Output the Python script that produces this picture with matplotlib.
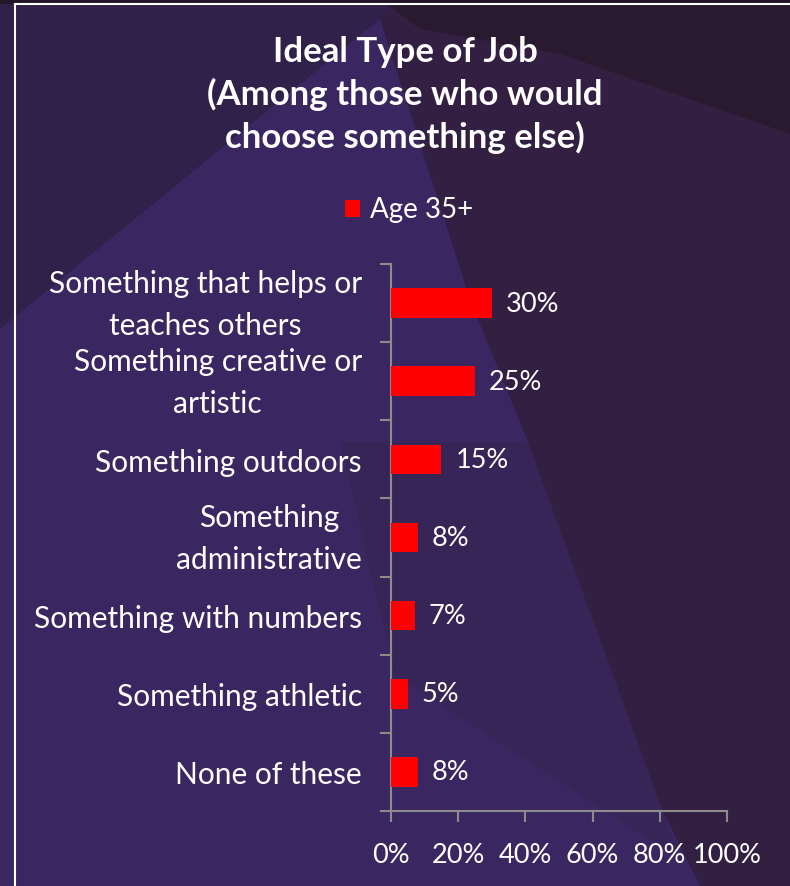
import matplotlib
matplotlib.use("Agg")
import matplotlib.pyplot as plt
from matplotlib.patches import Polygon, Rectangle
from matplotlib.transforms import ScaledTranslation

# Survey data
categories = [
    "Something that helps or\nteaches others",
    "Something creative or\nartistic",
    "Something outdoors",
    "Something\nadministrative",
    "Something with numbers",
    "Something athletic",
    "None of these",
]
values = [30, 25, 15, 8, 7, 5, 8]
series_name = "Age 35+"
x_ticks = [0, 20, 40, 60, 80, 100]
x_tick_labels = ["0%", "20%", "40%", "60%", "80%", "100%"]
title = "Ideal Type of Job\n(Among those who would\nchoose something else)"

FONT = ["Lato", "DejaVu Sans"]
W, H = 790, 887
fig = plt.figure(figsize=(W / 100, H / 100), dpi=100)
fig.patch.set_facecolor("#35234f")


def px(points):
    """Convert pixel coords (origin top-left) to figure fraction."""
    return [(x / W, 1 - y / H) for x, y in points]


# Faceted purple backdrop
shapes = [
    ([(0, 0), (400, 0), (380, 20), (0, 330)], "#2f2149"),
    ([(380, 20), (0, 330), (0, 887), (700, 887), (662, 810), (528, 443), (470, 300)], "#3a2762"),
    ([(340, 443), (528, 443), (680, 860), (395, 676)], "#372558"),
    ([(400, 0), (790, 0), (790, 887), (700, 887), (662, 810), (528, 443), (470, 300), (380, 20)], "#331f42"),
    ([(380, 0), (790, 0), (790, 135), (560, 55), (420, 30)], "#2a1a30"),
    ([(0, 0), (790, 0), (790, 5), (0, 5)], "#231629"),
]
for pts, col in shapes:
    fig.patches.append(Polygon(px(pts), closed=True, transform=fig.transFigure,
                               facecolor=col, edgecolor="none", zorder=-10))

# White frame
fig.add_artist(plt.Line2D([15 / W, 15 / W], [0, 1 - 5 / H], transform=fig.transFigure,
                          color="white", lw=1.5))
fig.add_artist(plt.Line2D([15 / W, 1], [1 - 5 / H, 1 - 5 / H], transform=fig.transFigure,
                          color="white", lw=1.5))

ax = fig.add_axes([391 / W, 1 - 812 / H, (727 - 391) / W, (812 - 265) / H])
ax.set_facecolor("none")

n = len(categories)
ypos = list(range(n))
ax.barh(ypos, values, height=0.38, color="#ff0000", zorder=3)
for y, v in zip(ypos, values):
    ax.text(v + 4.2, y, f"{v}%", va="center", ha="left", color="white",
            fontsize=19.5, family=FONT)

ax.set_xlim(0, 100)
ax.set_ylim(n - 0.5, -0.5)

ax.set_yticks(ypos)
ax.set_yticklabels(categories, fontsize=21.5, family=FONT, color="white",
                   multialignment="center", linespacing=1.6)
ax.tick_params(axis="y", which="major", length=0, pad=21)
ax.set_yticks([i - 0.5 for i in range(n + 1)], minor=True)
ax.tick_params(axis="y", which="minor", length=8, width=1.5, color="#8c8c8c", direction="out")

# Two-line labels sit a little high so both lines straddle the bar evenly
lift = ScaledTranslation(0, 0.085, fig.dpi_scale_trans)
for lbl in ax.get_yticklabels():
    if "\n" in lbl.get_text():
        lbl.set_transform(lbl.get_transform() + lift)

ax.set_xticks(x_ticks)
ax.set_xticklabels(x_tick_labels, fontsize=19.5, family=FONT, color="white")
ax.tick_params(axis="x", length=8, width=1.5, color="#8c8c8c", direction="out", pad=14)

for side in ["top", "right"]:
    ax.spines[side].set_visible(False)
for side in ["left", "bottom"]:
    ax.spines[side].set_color("#8c8c8c")
    ax.spines[side].set_linewidth(1.5)

fig.text(405 / W, 1 - 95 / H, title, ha="center", va="center", color="white",
         fontsize=25, fontweight="bold", family=FONT, linespacing=1.38)

# Legend entry
fig.patches.append(Rectangle((345 / W, 1 - 218 / H), 15 / W, 17 / H, transform=fig.transFigure,
                             facecolor="#ff0000", edgecolor="none"))
fig.text(370 / W, 1 - 210 / H, series_name, ha="left", va="center", color="white",
         fontsize=20, family=FONT)

fig.savefig("out.png", dpi=100, facecolor=fig.get_facecolor())
